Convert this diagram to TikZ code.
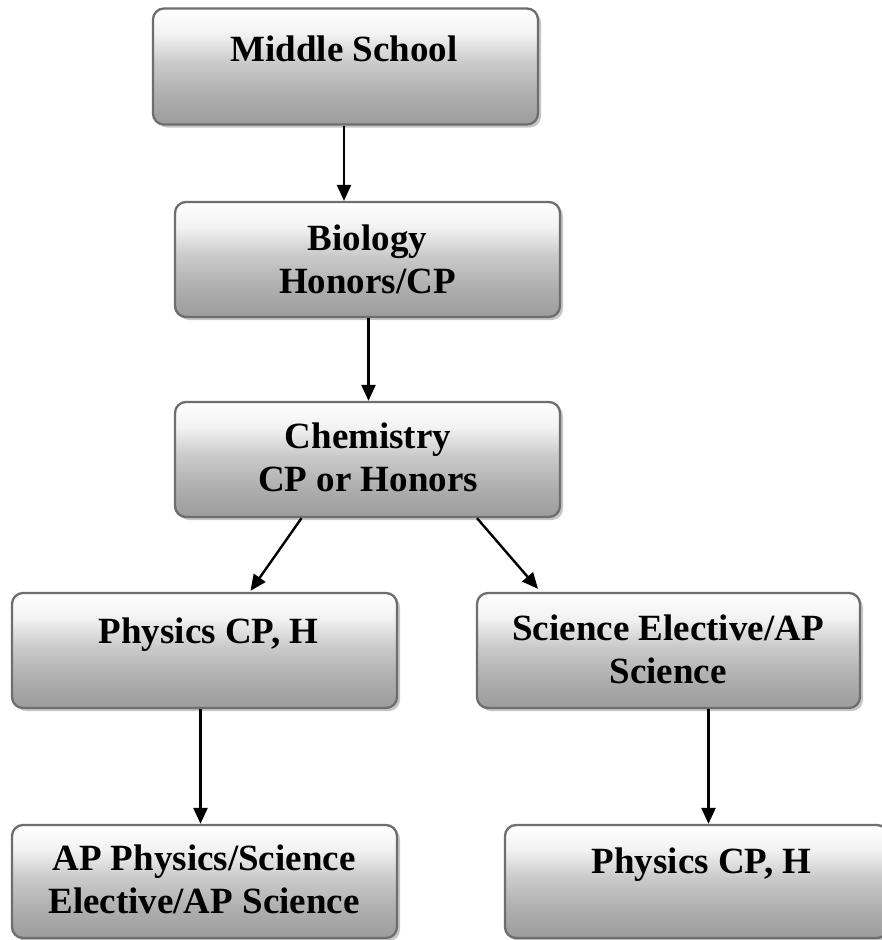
\documentclass[tikz,border=0pt]{standalone}
\usepackage{fontspec}
\setmainfont{Liberation Serif}
\usetikzlibrary{arrows.meta,calc,shadows}

\definecolor{boxedge}{HTML}{6E6E6E}
\definecolor{boxlow}{HTML}{9C9C9C}
\definecolor{boxmid}{HTML}{CBCBCB}
\definecolor{boxhigh}{HTML}{F2F2F2}
\definecolor{shadowgray}{HTML}{C6C6C6}

% light at the top, grey at the bottom
\pgfdeclareverticalshading{boxfade}{100bp}{%
  color(0bp)=(boxlow); color(25bp)=(boxlow); color(38bp)=(boxlow!60!boxmid);
  color(52bp)=(boxmid); color(64bp)=(boxhigh); color(75bp)=(white); color(100bp)=(white)}

\tikzset{
  stagebox/.style={draw=boxedge, line width=2.3pt, rounded corners=11pt,
    shading=boxfade,
    drop shadow={shadow xshift=3pt, shadow yshift=-3pt, fill=shadowgray, opacity=1}},
  stagetext/.style={anchor=north, inner sep=0pt, align=center,
    font=\bfseries\fontsize{37}{43}\selectfont},
  flow/.style={draw=black, line width=2.4pt, -{Triangle[length=16pt,width=14pt]}}
}

\begin{document}
\begin{tikzpicture}[x=1pt,y=-1pt]
\useasboundingbox (0,0) rectangle (882,940);

% course boxes
\node[stagebox, minimum width=385pt, minimum height=116pt] (ms)   at (345.5,66.5)  {};
\node[stagebox, minimum width=385pt, minimum height=115pt] (bio)  at (367.5,259.5) {};
\node[stagebox, minimum width=385pt, minimum height=115pt] (chem) at (367.5,459.5) {};
\node[stagebox, minimum width=385pt, minimum height=115pt] (phl)  at (204.5,650.5) {};
\node[stagebox, minimum width=383pt, minimum height=115pt] (sci)  at (668.5,650.5) {};
\node[stagebox, minimum width=385pt, minimum height=113pt] (ap)   at (204.5,881.5) {};
\node[stagebox, minimum width=383pt, minimum height=113pt] (phr)  at (696.5,881.5) {};

% course names
\node[stagetext] (tms)   at (344,36)    {Middle School};
\node[stagetext] (tbio)  at (367.5,225) {Biology\\Honors/CP};
\node[stagetext] (tchem) at (368,423)   {Chemistry\\CP or Honors};
\node[stagetext] (tphl)  at (208.5,618) {Physics CP, H};
\node[stagetext] (tsci)  at (668,615)   {Science Elective/AP\\Science};
\node[stagetext] (tap)   at (204,845)   {AP Physics/Science\\Elective/AP Science};
\node[stagetext] (tphr)  at (701.5,848) {Physics CP, H};

% progression arrows
\draw[flow] ($(ms.south)+(-1.5,0)$) coordinate (a1) -- (a1 |- bio.north);
\draw[flow] ($(bio.south)+(1,0)$) coordinate (a2) -- (a2 |- chem.north);
\draw[flow] ($(chem.south)+(-66,0)$) -- ($(phl.north)+(46,-1)$);
\draw[flow] ($(chem.south)+(109.5,0)$) -- ($(sci.north)+(-130.5,-3)$);
\draw[flow] ($(phl.south)+(-4,0)$) coordinate (a5) -- (a5 |- ap.north);
\draw[flow] ($(sci.south)+(40,0)$) coordinate (a6) -- (a6 |- phr.north);
\end{tikzpicture}
\end{document}
